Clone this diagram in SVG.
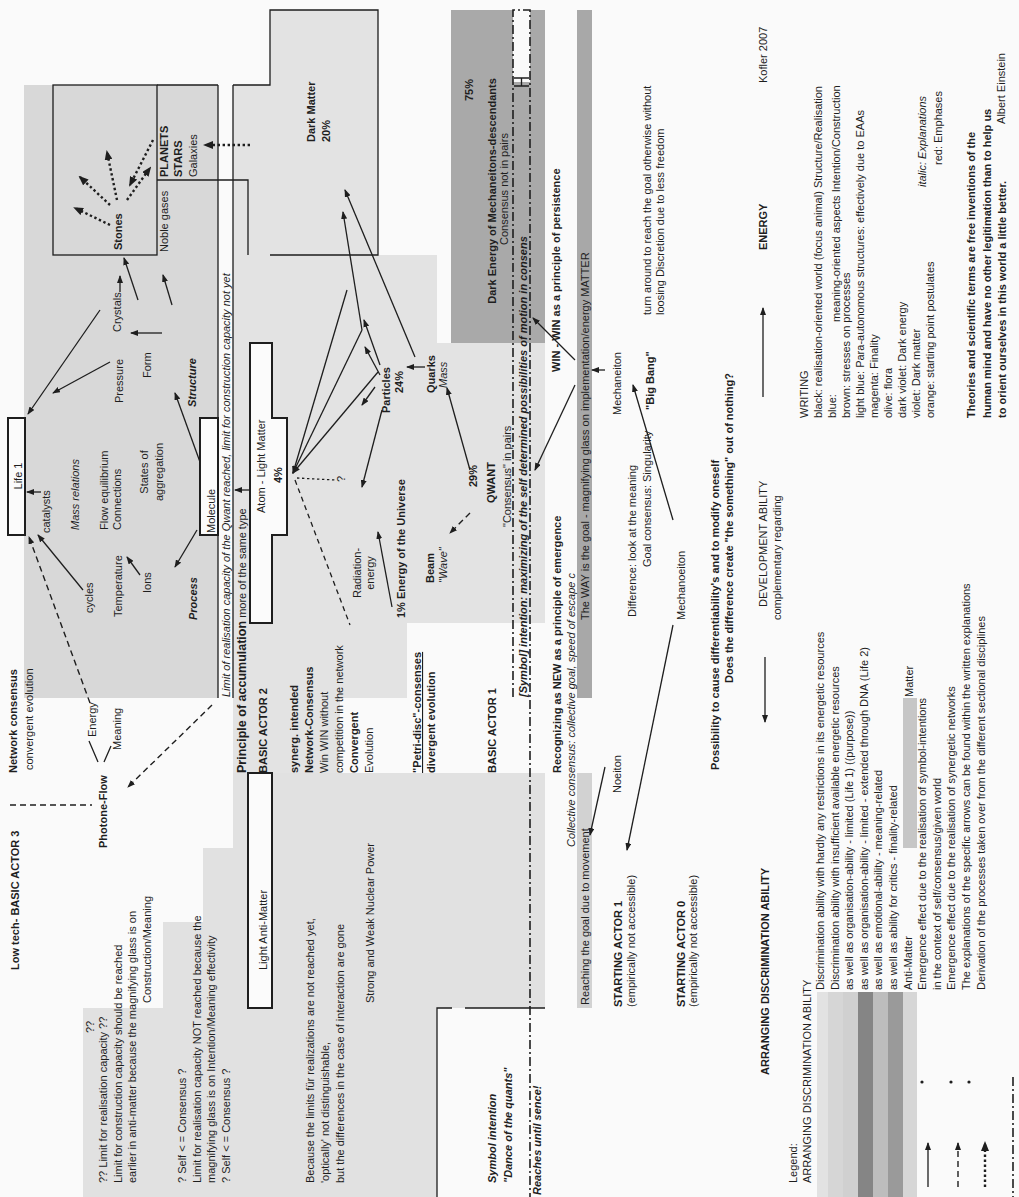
<svg xmlns="http://www.w3.org/2000/svg" width="1019" height="1197" viewBox="0 0 1019 1197">
<defs>
<style>
text{font-family:"Liberation Sans",Arial,Helvetica,sans-serif;fill:#1e1e1e;font-size:11px}
.b{font-weight:bold}
.i{font-style:italic}
.ln{stroke:#1e1e1e;stroke-width:1.3;fill:none}
.ar{stroke:#1e1e1e;stroke-width:1.3;fill:none;marker-end:url(#ah)}
.da{stroke:#1e1e1e;stroke-width:1.4;fill:none;stroke-dasharray:6 4;marker-end:url(#ah)}
.dl{stroke:#1e1e1e;stroke-width:1.4;fill:none;stroke-dasharray:6 4}
.dt{stroke:#1e1e1e;stroke-width:2.4;fill:none;stroke-dasharray:2.4 2.6;marker-end:url(#ahb)}
.dd{stroke:#1e1e1e;stroke-width:1.6;fill:none;stroke-dasharray:9 3 2 3}
.box{fill:#fbfbfb;stroke:#1e1e1e;stroke-width:2}
</style>
<marker id="ah" markerWidth="8" markerHeight="6" refX="7" refY="3" orient="auto" markerUnits="userSpaceOnUse"><path d="M0,0 L8,3 L0,6 z" fill="#1e1e1e"/></marker>
<marker id="ahb" markerWidth="10" markerHeight="8" refX="8" refY="4" orient="auto" markerUnits="userSpaceOnUse"><path d="M0,0 L10,4 L0,8 z" fill="#1e1e1e"/></marker>
</defs>
<rect width="1019" height="1197" fill="#fafafa"/>
<g id="regions">
<rect x="24" y="85" width="194" height="613" fill="#d8d8d8"/>
<polygon points="233,85 270,85 270,10 378,10 378,255 437,255 437,343 545,343 545,623 407,623 407,698 340,698 340,773 233,773" fill="#e3e3e3"/>
<polygon points="233,773 545,773 545,1008 437,1008 437,1197 83,1197 83,1008 163,1008 163,922 203,922 203,848 233,848" fill="#e1e1e1"/>
<rect x="451" y="10" width="94" height="333" fill="#a9a9a9"/>
<rect x="513" y="10" width="17" height="72" fill="#fafafa"/>
<rect x="577" y="10" width="15" height="688" fill="#a8a8a8"/>
<rect x="577" y="773" width="15" height="235" fill="#d2d2d2"/>
<rect x="218" y="85" width="15" height="613" fill="#fafafa"/>
<rect x="903" y="698" width="14" height="150" fill="#c6c6c6"/>
<rect x="817" y="992" width="11" height="205" fill="#e2e2e2"/>
<rect x="828" y="992" width="15" height="205" fill="#d6d6d6"/>
<rect x="843" y="992" width="15" height="205" fill="#d0d0d0"/>
<rect x="858" y="992" width="15" height="205" fill="#858585"/>
<rect x="873" y="992" width="15" height="205" fill="#bdbdbd"/>
<rect x="888" y="992" width="15" height="205" fill="#9a9a9a"/>
<rect x="903" y="992" width="14" height="205" fill="#d6d6d6"/>
</g>
<g id="outlines">
<rect x="53" y="85" width="104" height="170" class="ln" stroke-width="1.6"/>
<path d="M157,85 H218 M157,180 H248 V255 M218,85 V698 M233,85 V698" class="ln" stroke-width="1.6"/>
<polyline points="233,85 270,85 270,10 378,10 378,255 270,255" class="ln" stroke-width="1.6"/>
<path d="M437,1197 V1008 H452 M465,1008 H545" class="ln" stroke-width="1.6"/>
<path d="M513,697 V10 H530 V1197" class="dd"/>
<path d="M514,78 H529 M514,86 H529 M521.5,78 V86" class="ln" stroke-width="1.6"/>
<line x1="1013" y1="1077" x2="1013" y2="1197" class="dd" stroke-width="0.8"/>
</g>
<g id="node-life1"><rect x="8" y="418" width="17" height="117" class="box"/><text transform="translate(22,476) rotate(-90)" font-size="16" text-anchor="middle">Life 1</text></g>
<g id="node-molecule"><rect x="200" y="418" width="18" height="117" class="box"/><text transform="translate(215,533) rotate(-90)" font-size="17">Molecule</text></g>
<g id="node-atom"><polygon points="250,343 272,343 272,418 287,418 287,535 272,535 272,623 250,623" class="box"/><text transform="translate(265,513) rotate(-90)" font-size="16">Atom - Light Matter</text><text transform="translate(282,483) rotate(-90)" font-size="12" class="b">4%</text></g>
<g id="node-antimatter"><rect x="248" y="773" width="24" height="235" class="box"/><text transform="translate(267,970) rotate(-90)" font-size="16.5">Light Anti-Matter</text></g>
<g id="node-stones"><text transform="translate(122,250) rotate(-90)" class="b">Stones</text></g>
<g id="node-planets"><text transform="translate(168,177) rotate(-90)" class="b" font-size="11.5">PLANETS</text><text transform="translate(182,177) rotate(-90)" class="b" font-size="11.5">STARS</text><text transform="translate(197,177) rotate(-90)">Galaxies</text></g>
<g id="node-noble"><text transform="translate(168,252) rotate(-90)" font-size="11.5">Noble gases</text></g>
<g id="node-darkmatter"><text transform="translate(315,142) rotate(-90)" font-size="14" class="b">Dark Matter</text><text transform="translate(330,142) rotate(-90)" font-size="14" class="b">20%</text></g>
<g id="node-darkenergy"><text transform="translate(473,90) rotate(-90)" class="b" text-anchor="middle">75%</text><text transform="translate(496,191) rotate(-90)" class="b" font-size="11.5" text-anchor="middle">Dark Energy of Mechaneitons-descendants</text><text transform="translate(508,189) rotate(-90)" font-size="11.5" text-anchor="middle">Consensus not in pairs</text></g>
<g id="node-kofler"><text transform="translate(767,83) rotate(-90)">Kofler 2007</text></g>
<g id="node-energy"><text transform="translate(767,250) rotate(-90)" class="b" font-size="12.5">ENERGY</text></g>
<g id="node-writing">
<text transform="translate(808,418) rotate(-90)">WRITING</text>
<text transform="translate(822,418) rotate(-90)">black: realisation-oriented world (focus animal) Structure/Realisation</text>
<text transform="translate(836,418) rotate(-90)">blue:</text>
<text transform="translate(840,322) rotate(-90)">meaning-oriented aspects Intention/Construction</text>
<text transform="translate(850,418) rotate(-90)">brown: stresses on processes</text>
<text transform="translate(864,418) rotate(-90)">light blue: Para-autonomous structures: effectively due to EAAs</text>
<text transform="translate(878,418) rotate(-90)">magenta: Finality</text>
<text transform="translate(892,418) rotate(-90)">olive: flora</text>
<text transform="translate(906,418) rotate(-90)">dark violet: Dark energy</text>
<text transform="translate(920,418) rotate(-90)">violet: Dark matter</text>
<text transform="translate(934,418) rotate(-90)">orange: starting point postulates</text>
<text transform="translate(926,187) rotate(-90)" class="i" font-size="10.5">italic: Explanations</text>
<text transform="translate(942,165) rotate(-90)" font-size="10.5">red: Emphases</text>
</g>
<g id="node-einstein">
<text transform="translate(975,418) rotate(-90)" class="b" font-size="14.5"><tspan x="0" y="0">Theories and scientific terms are free inventions of the</tspan><tspan x="0" dy="15.5">human mind and have no other legitimation than to help us</tspan><tspan x="0" dy="15.5">to orient ourselves in this world a little better.</tspan></text>
<text transform="translate(1005,53) rotate(-90)" text-anchor="end">Albert Einstein</text>
</g>
<g id="node-process-area">
<text transform="translate(50,533) rotate(-90)">catalysts</text>
<text transform="translate(79,530) rotate(-90)" class="i" font-size="11.5">Mass relations</text>
<text transform="translate(108,530) rotate(-90)" font-size="11.5">Flow equilibrium</text>
<text transform="translate(121,530) rotate(-90)" font-size="11.5">Connections</text>
<text transform="translate(148,472) rotate(-90)" font-size="11.5" text-anchor="middle">States of</text>
<text transform="translate(163,472) rotate(-90)" font-size="11.5" text-anchor="middle">aggregation</text>
<text transform="translate(196,407) rotate(-90)" class="b i" font-size="11.5">Structure</text>
<text transform="translate(123,403) rotate(-90)" font-size="11.5">Pressure</text>
<text transform="translate(151,378) rotate(-90)" font-size="11.5">Form</text>
<text transform="translate(121,332) rotate(-90)" font-size="11.5">Crystals</text>
<text transform="translate(122,617) rotate(-90)" font-size="11.5">Temperature</text>
<text transform="translate(151,593) rotate(-90)" font-size="11.5">Ions</text>
<text transform="translate(93,613) rotate(-90)" font-size="11.5">cycles</text>
<text transform="translate(197,620) rotate(-90)" class="b i" font-size="11.5">Process</text>
</g>
<g id="node-limit"><text transform="translate(230,697) rotate(-90)" class="i">Limit of realisation capacity of the Qwant reached, limit for construction capacity not yet</text>
<text transform="translate(246,773) rotate(-90)" font-size="12"><tspan class="b" font-size="12.5">Principle of accumulation</tspan> more of the same type</text></g>
<g id="node-network"><text transform="translate(17,773) rotate(-90)" class="b" font-size="12.5">Network consensus</text><text transform="translate(33,770) rotate(-90)" font-size="12.5">convergent evolution</text></g>
<g id="node-photone"><text transform="translate(96,737) rotate(-90)">Energy</text><text transform="translate(121,750) rotate(-90)">Meaning</text><text transform="translate(107,848) rotate(-90)" class="b" font-size="12">Photone-Flow</text></g>
<g id="node-actor3"><text transform="translate(19,970) rotate(-90)" class="b" font-size="12">Low tech- BASIC ACTOR 3</text></g>
<g id="node-actor2"><text transform="translate(267,773) rotate(-90)" class="b" font-size="14">BASIC ACTOR 2</text>
<text transform="translate(298,773) rotate(-90)" font-size="11.5"><tspan x="0" y="0" class="b">synerg. intended</tspan><tspan x="0" dy="15" class="b">Network-Consensus</tspan><tspan x="0" dy="15">Win WIN without</tspan><tspan x="0" dy="15">competition in the network</tspan><tspan x="0" dy="15" class="b">Convergent</tspan><tspan x="0" dy="15">Evolution</tspan></text></g>
<g id="node-petri"><text transform="translate(421,773) rotate(-90)" class="b" font-size="11.5" text-decoration="underline">"Petri-disc"-consenses</text><text transform="translate(435,773) rotate(-90)" class="b" font-size="11.5">divergent evolution</text></g>
<g id="node-actor1"><text transform="translate(496,773) rotate(-90)" class="b" font-size="14">BASIC ACTOR 1</text></g>
<g id="node-symbol"><text transform="translate(527,697) rotate(-90)" class="b i" font-size="11.5">[Symbol] intention: maximizing of the self determined possibilities of motion in consens</text></g>
<g id="node-emergence"><text transform="translate(561,773) rotate(-90)" class="b" font-size="14.5">Recognizing as NEW as a principle of emergence</text><text transform="translate(575,847) rotate(-90)" class="i">Collective consensus: collective goal, speed of escape c</text></g>
<g id="node-persistence"><text transform="translate(560,372) rotate(-90)" class="b" font-size="14.5">WIN - WIN as a principle of persistence</text><text transform="translate(589,620) rotate(-90)" font-size="11.5">The WAY is the goal - magnifying glass on implementation/energy MATTER</text></g>
<g id="node-mechaneiton"><text transform="translate(621,415) rotate(-90)" font-size="16.5">Mechaneiton</text>
<text transform="translate(654,410) rotate(-90)" class="b">"Big Bang"</text>
<text transform="translate(651,315) rotate(-90)">turn around to reach the goal otherwise without</text>
<text transform="translate(664,315) rotate(-90)">loosing Discretion due to less freedom</text></g>
<g id="node-mechanoeiton"><text transform="translate(685,620) rotate(-90)" font-size="16.5">Mechanoeiton</text>
<text transform="translate(636,617) rotate(-90)">Difference: look at the meaning</text>
<text transform="translate(651,567) rotate(-90)">Goal consensus: Singularity</text></g>
<g id="node-noeiton"><text transform="translate(621,793) rotate(-90)" font-size="16.5">Noeiton</text><text transform="translate(589,1005) rotate(-90)">Reaching the goal due to movement</text></g>
<g id="node-starting1"><text transform="translate(622,1007) rotate(-90)" class="b" font-size="14.5">STARTING ACTOR 1</text><text transform="translate(635,1007) rotate(-90)" font-size="10.5">(empirically not accessible)</text></g>
<g id="node-starting0"><text transform="translate(685,1007) rotate(-90)" class="b" font-size="14.5">STARTING ACTOR 0</text><text transform="translate(697,1007) rotate(-90)" font-size="10.5">(empirically not accessible)</text></g>
<g id="node-possibility"><text transform="translate(719,770) rotate(-90)" class="b" font-size="14.5">Possibility to cause differentiability's and to modify oneself</text><text transform="translate(733,683) rotate(-90)" class="b" font-size="11.5">Does the difference create "the something" out of nothing?</text></g>
<g id="node-development"><text transform="translate(767,607) rotate(-90)" font-size="14">DEVELOPMENT ABILITY</text><text transform="translate(781,620) rotate(-90)" font-size="10.5">complementary regarding</text></g>
<g id="node-arranging"><text transform="translate(769,1075) rotate(-90)" class="b" font-size="11.7">ARRANGING DISCRIMINATION ABILITY</text></g>
<g id="node-legend">
<text transform="translate(797,1183) rotate(-90)"><tspan x="0" y="0">Legend:</tspan><tspan x="0" dy="14">ARRANGING DISCRIMINATION ABILITY</tspan></text>
<text transform="translate(824,990) rotate(-90)" font-size="11"><tspan x="0" y="0">Discrimination ability with hardly any restrictions in its energetic resources</tspan><tspan x="0" dy="14.6">Discrimination ability with insufficient available energetic resources</tspan><tspan x="0" dy="14.6">as well as organisation-ability - limited (Life 1) ((purpose))</tspan><tspan x="0" dy="14.6">as well as organisation-ability - limited - extended through DNA (Life 2)</tspan><tspan x="0" dy="14.6">as well as emotional-ability - meaning-related</tspan><tspan x="0" dy="14.6">as well as ability for critics - finality-related</tspan><tspan x="0" dy="14.6">Anti-Matter</tspan><tspan x="0" dy="14.6">Emergence effect due to the realisation of symbol-intentions</tspan><tspan x="0" dy="14.6">in the context of self/consensus/given world</tspan><tspan x="0" dy="14.6">Emergence effect due to the realisation of synergetic networks</tspan><tspan x="0" dy="14.6">The explanations of the specific arrows can be found within the written explanations</tspan><tspan x="0" dy="14.6">Derivation of the processes taken over from the different sectional disciplines</tspan></text>
<text transform="translate(913,697) rotate(-90)">Matter</text>
<circle cx="922" cy="1082" r="1.6" fill="#1e1e1e"/><circle cx="951" cy="1082" r="1.6" fill="#1e1e1e"/><circle cx="969" cy="1082" r="1.6" fill="#1e1e1e"/>
</g>
<g id="node-antinotes">
<text transform="translate(94,1033) rotate(-90)" font-size="11.5">??</text>
<text transform="translate(107,1183) rotate(-90)" font-size="11.5"><tspan x="0" y="0">?? Limit for realisation capacity ??</tspan><tspan x="0" dy="14.6">Limit for construction capacity should be reached</tspan><tspan x="0" dy="14.6">earlier in anti-matter because the magnifying glass is on</tspan></text>
<text transform="translate(151,1003) rotate(-90)" font-size="11.5">Construction/Meaning</text>
<text transform="translate(186,1183) rotate(-90)" font-size="11.5"><tspan x="0" y="0">? Self &lt; = Consensus ?</tspan><tspan x="0" dy="14.5">Limit for realisation capacity NOT reached because the</tspan><tspan x="0" dy="14.5">magnifying glass is on Intention/Meaning effectivity</tspan><tspan x="0" dy="14.5">? Self &lt; = Consensus ?</tspan></text>
<text transform="translate(314,1183) rotate(-90)" font-size="11.5"><tspan x="0" y="0">Because the limits für realizations are not reached yet,</tspan><tspan x="0" dy="15">'optically' not distinguishable,</tspan><tspan x="0" dy="15">but the differences in the case of interaction are gone</tspan></text>
<text transform="translate(374,1003) rotate(-90)" font-size="11.5">Strong and Weak Nuclear Power</text>
<text transform="translate(496,1183) rotate(-90)" class="b i" font-size="11.5">Symbol intention</text>
<text transform="translate(512,1183) rotate(-90)" class="b i" font-size="11.5">"Dance of the quants"</text>
<text transform="translate(541,1195) rotate(-90)" class="b i" font-size="11.5">Reaches until sence!</text>
</g>
<g id="node-particles">
<text transform="translate(390,413) rotate(-90)" class="b" font-size="11.5">Particles</text><text transform="translate(403,393) rotate(-90)" class="b" font-size="11.5">24%</text>
<text transform="translate(435,393) rotate(-90)" class="b" font-size="11.5">Quarks</text><text transform="translate(447,388) rotate(-90)" class="i">Mass</text>
<text transform="translate(477,487) rotate(-90)" class="b">29%</text><text transform="translate(495,503) rotate(-90)" class="b" font-size="13.5">QWANT</text><text transform="translate(511,527) rotate(-90)">"Consensus" in pairs</text>
<text transform="translate(434,583) rotate(-90)" class="b" font-size="11.5">Beam</text><text transform="translate(447,583) rotate(-90)" class="i">"Wave"</text>
<text transform="translate(405,618) rotate(-90)" class="b" font-size="11.5">1% Energy of the Universe</text>
<text transform="translate(361,573) rotate(-90)" text-anchor="middle">Radiation-</text><text transform="translate(374,573) rotate(-90)" text-anchor="middle">energy</text>
<text transform="translate(345,482) rotate(-90)">?</text>
</g>
<g id="connectors">
<line x1="100" y1="310" x2="28" y2="414" class="ar"/>
<line x1="138" y1="300" x2="124" y2="258" class="ar"/>
<line x1="120" y1="292" x2="120" y2="276" class="ar"/>
<line x1="172" y1="305" x2="163" y2="275" class="ar"/>
<line x1="162" y1="333" x2="131" y2="333" class="ar"/>
<line x1="110" y1="362" x2="53" y2="393" class="ar"/>
<line x1="41" y1="492" x2="27" y2="492" class="ar"/>
<line x1="83" y1="590" x2="38" y2="535" class="ar"/>
<line x1="140" y1="575" x2="127" y2="557" class="ar"/>
<line x1="200" y1="462" x2="175" y2="393" class="ar"/>
<line x1="197" y1="530" x2="175" y2="567" class="ar"/>
<line x1="250" y1="490" x2="235" y2="490" class="ar"/>
<line x1="347" y1="290" x2="293" y2="473" class="ar"/>
<line x1="362" y1="330" x2="293" y2="473" class="ar"/>
<line x1="378" y1="372" x2="293" y2="473" class="ar"/>
<line x1="297" y1="478" x2="335" y2="480" class="ln" stroke-width="2.2" stroke-dasharray="2.4 2.6"/>
<line x1="295" y1="480" x2="350" y2="625" class="ln" stroke-width="1" stroke-dasharray="5 4"/>
<line x1="380" y1="365" x2="364" y2="320" class="ar"/>
<line x1="380" y1="375" x2="365" y2="347" class="ar"/>
<line x1="375" y1="387" x2="362" y2="405" class="ar"/>
<line x1="382" y1="410" x2="362" y2="487" class="ar"/>
<line x1="392" y1="607" x2="378" y2="532" class="ar"/>
<line x1="425" y1="367" x2="407" y2="367" class="ar"/>
<line x1="470" y1="470" x2="447" y2="388" class="ar"/>
<line x1="470" y1="513" x2="450" y2="533" class="da"/>
<line x1="415" y1="357" x2="345" y2="190" class="ar"/>
<line x1="362" y1="330" x2="343" y2="212" class="ar"/>
<line x1="575" y1="360" x2="533" y2="318" class="ar"/>
<line x1="575" y1="385" x2="535" y2="470" class="ar"/>
<line x1="605" y1="370" x2="592" y2="370" class="ar"/>
<line x1="673" y1="520" x2="633" y2="385" class="ar"/>
<line x1="605" y1="767" x2="590" y2="835" class="ar"/>
<line x1="673" y1="625" x2="627" y2="850" class="ar"/>
<line x1="250" y1="145" x2="205" y2="145" class="dt"/>
<line x1="110" y1="225" x2="75" y2="208" class="dt"/>
<line x1="110" y1="205" x2="80" y2="177" class="dt"/>
<line x1="117" y1="200" x2="107" y2="152" class="dt"/>
<line x1="127" y1="200" x2="150" y2="168" class="dt"/>
<line x1="153" y1="140" x2="130" y2="185" class="dt"/>
<line x1="212" y1="705" x2="128" y2="787" class="da"/>
<line x1="90" y1="703" x2="29" y2="537" class="da"/>
<line x1="10" y1="805" x2="92" y2="805" class="dl"/>
<path d="M98,762 L89,741 M104,762 L111,746" class="ln" stroke-width="2"/>
<line x1="763" y1="397" x2="763" y2="308" class="ar"/>
<line x1="765" y1="657" x2="765" y2="722" class="ar"/>
<line x1="928" y1="1187" x2="928" y2="1143" class="ar"/>
<line x1="958" y1="1187" x2="958" y2="1143" class="da"/>
<line x1="985" y1="1187" x2="985" y2="1143" class="dt"/>
</g>
</svg>
